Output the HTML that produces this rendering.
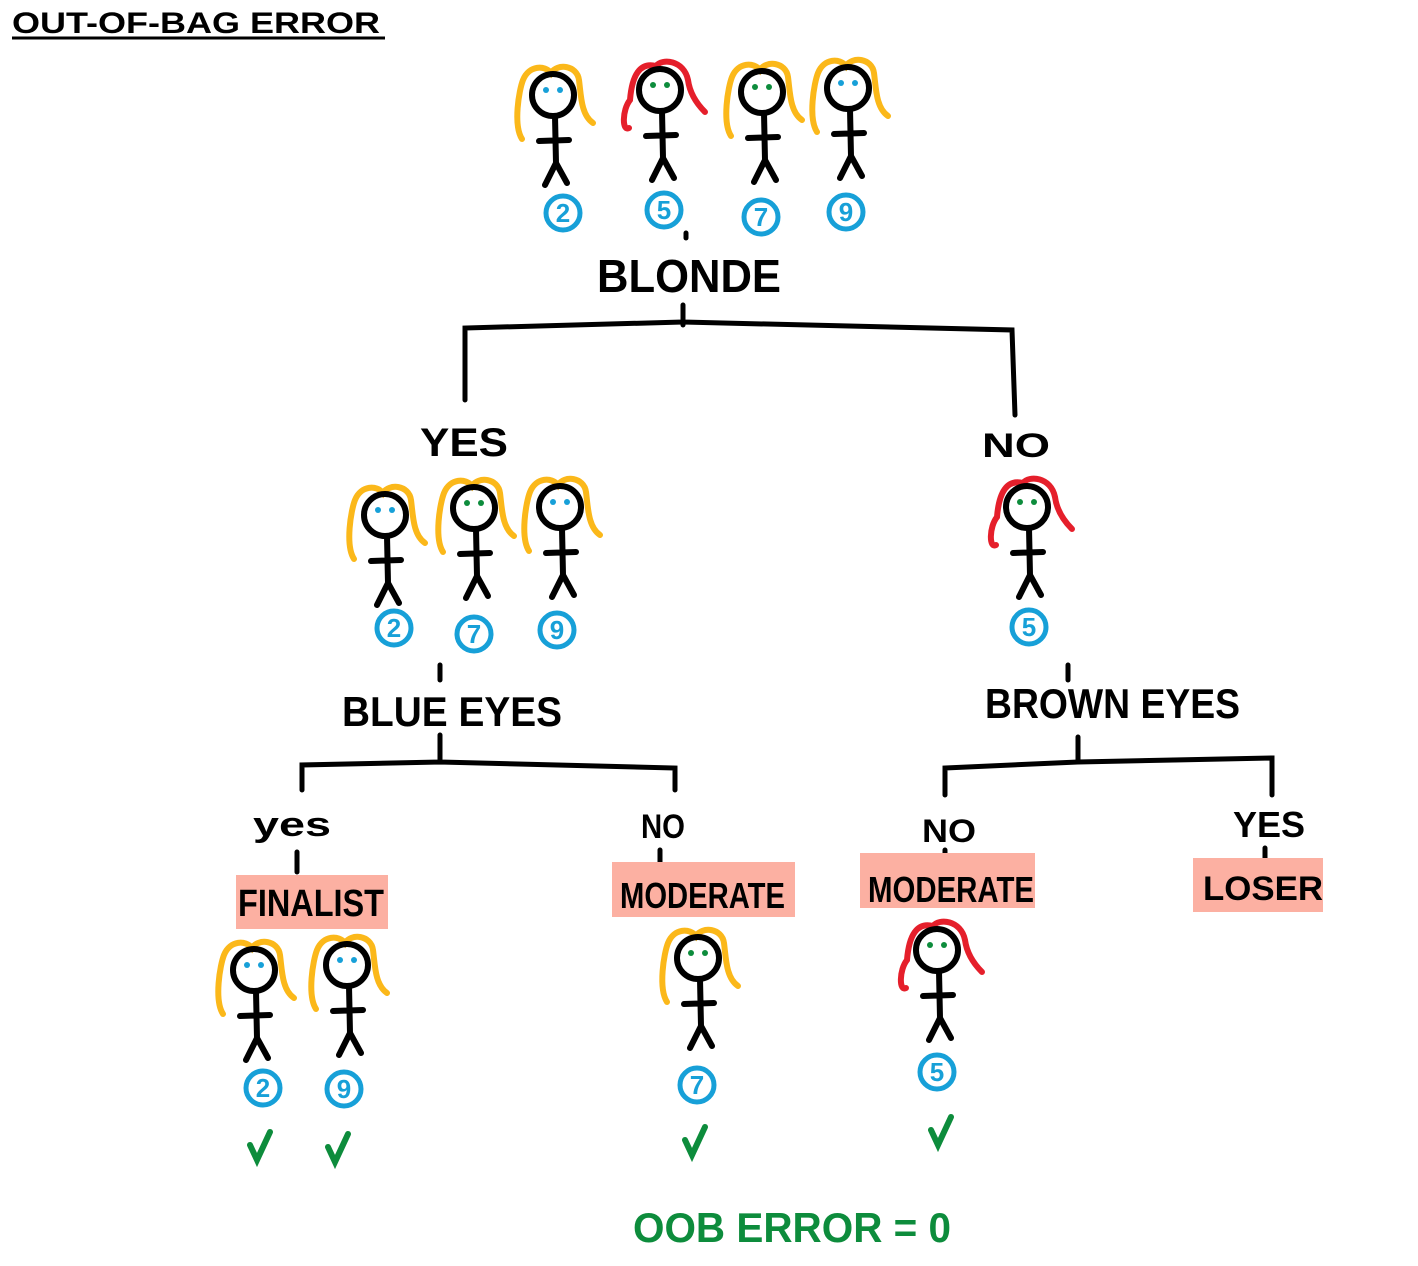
<!DOCTYPE html>
<html><head><meta charset="utf-8"><style>
html,body{margin:0;padding:0;background:#fff;}
svg{display:block}
text{font-family:"Liberation Sans",sans-serif;font-weight:bold;}
</style></head><body>
<svg width="1418" height="1266" viewBox="0 0 1418 1266" xmlns="http://www.w3.org/2000/svg">
<defs>
<g id="body" fill="none" stroke="#000" stroke-width="6" stroke-linecap="round">
<circle cx="0" cy="0" r="21"/>
<path d="M2,21 L3,68 M-14,46 L16,45 M3,68 L-8,90 M3,68 L14,88"/>
</g>
<g id="blonde" fill="none" stroke="#fbb81a" stroke-width="6" stroke-linecap="round">
<path d="M-31,44 C-40,30 -34,-5 -30,-15 C-24,-30 -8,-30 -2,-22 C4,-32 24,-30 26,-15 C28,0 28,20 40,28"/>
</g>
<g id="red" fill="none" stroke="#e51f2b" stroke-width="6" stroke-linecap="round">
<path d="M-31,38 C-38,42 -38,20 -30,10 C-28,-15 -20,-28 -4,-24 C2,-32 24,-30 28,-10 C30,5 38,15 45,22"/>
</g>
<g id="beyes" fill="#17a0d8"><circle cx="-7" cy="-5" r="3"/><circle cx="7" cy="-5" r="3"/></g>
<g id="geyes" fill="#0d8c3c"><circle cx="-7" cy="-5" r="3"/><circle cx="7" cy="-5" r="3"/></g>
<g id="chk" fill="none" stroke="#0d8c3c" stroke-width="6" stroke-linecap="round"><path d="M-9,0 L-2,15 L11,-13"/></g>
</defs>

<text x="12" y="33" font-size="30" textLength="368" lengthAdjust="spacingAndGlyphs">OUT-OF-BAG ERROR</text>
<line x1="12" y1="38" x2="385" y2="38" stroke="#000" stroke-width="3"/>

<g>
<use href="#blonde" x="553" y="95"/><use href="#body" x="553" y="95"/><use href="#beyes" x="553" y="95"/>
<use href="#red" x="660" y="90"/><use href="#body" x="660" y="90"/><use href="#geyes" x="660" y="90"/>
<use href="#blonde" x="762" y="92"/><use href="#body" x="762" y="92"/><use href="#geyes" x="762" y="92"/>
<use href="#blonde" x="848" y="88"/><use href="#body" x="848" y="88"/><use href="#beyes" x="848" y="88"/>

<use href="#blonde" x="385" y="515"/><use href="#body" x="385" y="515"/><use href="#beyes" x="385" y="515"/>
<use href="#blonde" x="474" y="508"/><use href="#body" x="474" y="508"/><use href="#geyes" x="474" y="508"/>
<use href="#blonde" x="560" y="507"/><use href="#body" x="560" y="507"/><use href="#beyes" x="560" y="507"/>

<use href="#red" x="1027" y="507"/><use href="#body" x="1027" y="507"/><use href="#geyes" x="1027" y="507"/>

<use href="#blonde" x="254" y="970"/><use href="#body" x="254" y="970"/><use href="#beyes" x="254" y="970"/>
<use href="#blonde" x="347" y="965"/><use href="#body" x="347" y="965"/><use href="#beyes" x="347" y="965"/>
<use href="#blonde" x="698" y="958"/><use href="#body" x="698" y="958"/><use href="#geyes" x="698" y="958"/>
<use href="#red" x="937" y="950"/><use href="#body" x="937" y="950"/><use href="#geyes" x="937" y="950"/>
</g>

<g fill="none" stroke="#17a0d8" stroke-width="5">
<circle cx="563" cy="213" r="17"/><circle cx="664" cy="210" r="17"/><circle cx="761" cy="217" r="17"/><circle cx="846" cy="212" r="17"/>
<circle cx="394" cy="628" r="17"/><circle cx="474" cy="634" r="17"/><circle cx="557" cy="630" r="17"/>
<circle cx="1029" cy="627" r="17"/>
<circle cx="263" cy="1088" r="17"/><circle cx="344" cy="1089" r="17"/><circle cx="697" cy="1085" r="17"/><circle cx="937" cy="1072" r="17"/>
</g>
<g fill="#17a0d8" font-size="26" text-anchor="middle">
<text x="563" y="222">2</text><text x="664" y="219">5</text><text x="761" y="226">7</text><text x="846" y="221">9</text>
<text x="394" y="637">2</text><text x="474" y="643">7</text><text x="557" y="639">9</text>
<text x="1029" y="636">5</text>
<text x="263" y="1097">2</text><text x="344" y="1098">9</text><text x="697" y="1094">7</text><text x="937" y="1081">5</text>
</g>

<g fill="none" stroke="#000" stroke-width="5" stroke-linecap="round">
<path d="M683,305 L683,325 M465,400 L465,328 L683,322 L1012,330 L1015,415"/>
<path d="M686,233 L686,238"/>
<path d="M440,735 L440,762 M302,790 L302,765 L440,762 L675,768 L675,790"/>
<path d="M440,665 L440,680"/>
<path d="M1078,737 L1078,762 M945,795 L945,768 L1078,762 L1272,758 L1272,795"/>
<path d="M1068,665 L1068,680"/>
<path d="M297,852 L297,872 M660,850 L660,864 M945,850 L945,862 M1265,848 L1265,862"/>
</g>

<g fill="#000">
<text x="597" y="292" font-size="46" textLength="184" lengthAdjust="spacingAndGlyphs">BLONDE</text>
<text x="420" y="456" font-size="40" textLength="88" lengthAdjust="spacingAndGlyphs">YES</text>
<text x="982" y="457" font-size="34" textLength="68" lengthAdjust="spacingAndGlyphs">NO</text>
<text x="342" y="726" font-size="42" textLength="220" lengthAdjust="spacingAndGlyphs">BLUE EYES</text>
<text x="985" y="718" font-size="42" textLength="255" lengthAdjust="spacingAndGlyphs">BROWN EYES</text>
<text x="253" y="836" font-size="34" textLength="78" lengthAdjust="spacingAndGlyphs">yes</text>
<text x="641" y="838" font-size="34" textLength="44" lengthAdjust="spacingAndGlyphs">NO</text>
<text x="922" y="842" font-size="32" textLength="54" lengthAdjust="spacingAndGlyphs">NO</text>
<text x="1233" y="837" font-size="36" textLength="72" lengthAdjust="spacingAndGlyphs">YES</text>
</g>

<g fill="#fcb0a2">
<rect x="236" y="875" width="152" height="54"/>
<rect x="612" y="862" width="183" height="55"/>
<rect x="860" y="853" width="175" height="55"/>
<rect x="1193" y="858" width="130" height="54"/>
</g>
<g fill="#000">
<text x="238" y="916" font-size="38" textLength="146" lengthAdjust="spacingAndGlyphs">FINALIST</text>
<text x="620" y="908" font-size="36" textLength="165" lengthAdjust="spacingAndGlyphs">MODERATE</text>
<text x="868" y="902" font-size="36" textLength="166" lengthAdjust="spacingAndGlyphs">MODERATE</text>
<text x="1203" y="900" font-size="34" textLength="120" lengthAdjust="spacingAndGlyphs">LOSER</text>
</g>

<use href="#chk" x="259" y="1145"/><use href="#chk" x="337" y="1147"/><use href="#chk" x="694" y="1140"/><use href="#chk" x="940" y="1130"/>

<text x="633" y="1242" font-size="42" fill="#0d8c3c" textLength="318" lengthAdjust="spacingAndGlyphs">OOB ERROR = 0</text>
</svg>
</body></html>
